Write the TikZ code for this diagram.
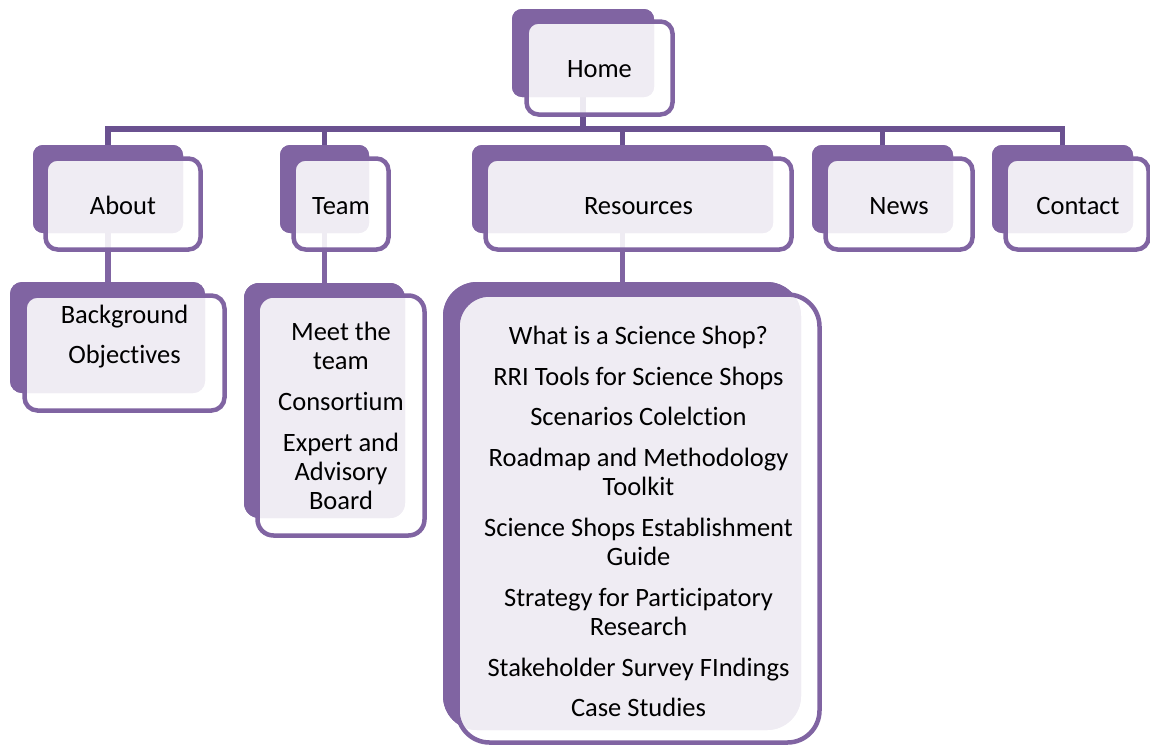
\documentclass[tikz,border=0pt]{standalone}
\usepackage{fontspec}
\setmainfont{Carlito}[Ligatures={NoCommon,NoContextual}]
\definecolor{cardpurple}{HTML}{8064A2}
\definecolor{busline}{HTML}{6A5190}
\begin{document}
\begin{tikzpicture}[x=1pt,y=-1pt,
  backcard/.style={draw=none,fill=cardpurple,inner sep=0pt,outer sep=0pt,rounded corners=#1},
  backcard/.default=10pt,
  frontcard/.style={draw=cardpurple,line width=4.5pt,fill=white,fill opacity=0.88,
    inner sep=0pt,outer sep=0pt,rounded corners=#1},
  frontcard/.default=12pt,
  bus/.style={draw=busline,line width=5.5pt},
  stem/.style={draw=cardpurple,line width=5.5pt},
  label/.style={anchor=base,inner sep=0pt,text=black,
    font=\fontsize{26.5}{29}\selectfont}]
\useasboundingbox (0,0) rectangle (1150,747);

% back cards (filled)
\node[backcard, minimum width=142pt, minimum height=88pt] (home-b) at (583,53) {};
\node[backcard, minimum width=150pt, minimum height=88pt] (about-b) at (108,189) {};
\node[backcard, minimum width=89pt, minimum height=88pt] (team-b) at (324.5,189) {};
\node[backcard, minimum width=301pt, minimum height=88pt] (res-b) at (622.5,189) {};
\node[backcard, minimum width=141pt, minimum height=88pt] (news-b) at (882.5,189) {};
\node[backcard, minimum width=141pt, minimum height=88pt] (contact-b) at (1062.5,189) {};
\node[backcard=12pt, minimum width=195pt, minimum height=111pt] (bg-b) at (107.5,337.5) {};
\node[backcard=15pt, minimum width=161pt, minimum height=235pt] (teamsub-b) at (324.5,400.5) {};
\node[backcard=34pt, minimum width=358pt, minimum height=448pt] (ressub-b) at (622,506) {};

% connectors
\coordinate (bus) at (0,129);
\draw[bus] (about-b.north) -- (about-b.north |- bus) -- (contact-b.north |- bus) -- (contact-b.north);
\draw[bus] (home-b.south) -- (home-b.south |- bus);
\draw[bus] (team-b.north |- bus) -- (team-b.north);
\draw[bus] (res-b.north |- bus) -- (res-b.north);
\draw[bus] (news-b.north |- bus) -- (news-b.north);
\draw[stem] (about-b.south) -- (about-b.south |- bg-b.north);
\draw[stem] (team-b.south) -- (team-b.south |- teamsub-b.north);
\draw[stem] (res-b.south) -- (res-b.south |- ressub-b.north);

% redraw back cards over the connector ends
\foreach \n in {home-b,about-b,team-b,res-b,news-b,contact-b}
  \fill[cardpurple,rounded corners=10pt] (\n.north west) rectangle (\n.south east);
\fill[cardpurple,rounded corners=12pt] (bg-b.north west) rectangle (bg-b.south east);
\fill[cardpurple,rounded corners=15pt] (teamsub-b.north west) rectangle (teamsub-b.south east);
\fill[cardpurple,rounded corners=34pt] (ressub-b.north west) rectangle (ressub-b.south east);

% front cards (outlined, translucent white)
\node[frontcard, minimum width=146pt, minimum height=93pt] (home) at (599.5,68) {};
\node[frontcard, minimum width=155pt, minimum height=91pt] (about) at (123,204) {};
\node[frontcard, minimum width=95pt, minimum height=91pt] (team) at (341,204) {};
\node[frontcard, minimum width=306pt, minimum height=91pt] (res) at (638.5,204) {};
\node[frontcard, minimum width=147pt, minimum height=91pt] (news) at (899,204) {};
\node[frontcard, minimum width=143pt, minimum height=91pt] (contact) at (1077,204) {};
\node[frontcard=13pt, minimum width=200pt, minimum height=115pt] (bg) at (124.5,353) {};
\node[frontcard=16pt, minimum width=167pt, minimum height=240pt] (teamsub) at (341,415.5) {};
\node[frontcard=32pt, minimum width=362pt, minimum height=448pt] (ressub) at (638.5,518.5) {};

% labels
\node[label] (home-t) at (599.5,77) {Home};
\node[label] (about-t) at (123,214) {About};
\node[label] (team-t) at (341,214) {Team};
\node[label] (res-t) at (638.5,214) {Resources};
\node[label] (news-t) at (899,214) {News};
\node[label] (contact-t) at (1078,214) {Contact};

\foreach \y/\t [count=\i] in {323/Background,363/Objectives}
  \node[label] (bg-t\i) at (124.5,\y) {\t};

\foreach \y/\t [count=\i] in {340/Meet the,369/team,410/Consortium,
    451/Expert and,480/Advisory,509/Board}
  \node[label] (teamsub-t\i) at (341,\y) {\t};

\foreach \y/\t [count=\i] in {344/What is a Science Shop?,
    385/RRI Tools for Science Shops,
    425/Scenarios Colelction,
    466/Roadmap and Methodology,
    495/Toolkit,
    536/Science Shops Establishment,
    565/Guide,
    606/Strategy for Participatory,
    635/Research,
    676/Stakeholder Survey FIndings,
    716/Case Studies}
  \node[label] (ressub-t\i) at (638.5,\y) {\t};
\end{tikzpicture}
\end{document}
